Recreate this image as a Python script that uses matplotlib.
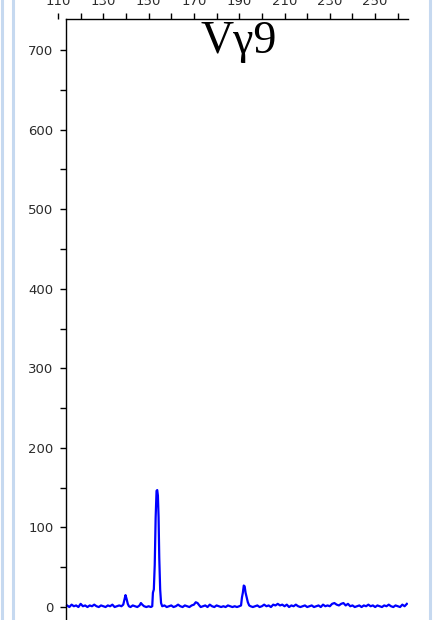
import matplotlib
matplotlib.use('Agg')
import matplotlib.pyplot as plt
from matplotlib.lines import Line2D
from matplotlib.ticker import MultipleLocator

# fragment size (bp) and signal (RFU)
sizes = [114, 115, 116, 117, 118, 119, 120, 121, 122, 123, 124, 125, 126, 127, 128,
         129, 130, 131, 132, 133, 134, 135, 136, 137, 138,
         138.8, 139.3, 139.8, 140.3, 140.8, 141.3, 142, 143, 144, 145, 146, 146.6,
         147.2, 148, 149, 150, 151, 151.6,
         151.9, 152.3, 152.7, 153.1, 153.5, 153.8, 154.1, 154.4, 154.7, 155.1, 155.5,
         156, 157, 158, 159, 160, 161, 162, 163, 164, 165, 166, 167, 168, 169, 170,
         170.8, 171.6, 172.4, 173, 174, 175, 176, 177, 178, 179, 180, 181, 182, 183,
         184, 185, 186, 187, 188, 189, 190, 190.8,
         191.2, 191.6, 192.0, 192.4, 192.8, 193.3, 193.8, 194.4, 195, 196, 197, 198,
         199, 200, 201, 202, 203, 204, 205, 206, 207, 208, 209, 210, 211, 212, 213,
         214, 215, 216, 217, 218, 219, 220, 221, 222, 223, 224, 225, 226, 227, 228,
         229, 230, 231, 232, 233, 234, 235, 236, 237, 238, 239, 240, 241, 242, 243,
         244, 245, 246, 247, 248, 249, 250, 251, 252, 253, 254, 255, 256, 257, 258,
         259, 260, 261, 262, 263, 264]
rfu = [2, 0, 3, 1, 2, 0, 4, 1, 2, 0, 2, 1, 3, 1, 0,
       2, 1, 0, 2, 1, 3, 0, 1, 2, 1,
       3, 9, 15, 10, 4, 1, 0, 2, 1, 0, 2, 5,
       3, 1, 0, 1, 0, 1,
       18, 22, 53, 112, 146, 147, 140, 113, 62, 22, 5,
       1, 2, 0, 1, 2, 0, 1, 3, 1, 0, 2, 1, 0, 2, 3,
       6, 5, 2, 0, 1, 2, 0, 3, 1, 0, 2, 1, 0, 1,
       0, 2, 1, 0, 1, 0, 1, 2,
       12, 18, 27, 26, 18, 12, 6, 2, 1, 0, 1, 2,
       0, 1, 3, 1, 2, 0, 3, 2, 4, 2, 3, 1, 3, 0, 2,
       1, 3, 1, 0, 1, 2, 0, 1, 2, 0, 1, 2, 0, 3, 1,
       2, 1, 4, 5, 3, 2, 4, 5, 2, 4, 1, 2, 0, 1, 2,
       0, 2, 1, 3, 1, 2, 0, 2, 1, 0, 2, 1, 3, 1, 0,
       2, 1, 0, 3, 1, 4]

x_major = [110, 130, 150, 170, 190, 210, 230, 250]
x_minor = [120, 140, 160, 180, 200, 220, 240, 260]
y_major = [0, 100, 200, 300, 400, 500, 600, 700]

title = 'V\u03b39'
label_color = '#2b2b2b'

fig = plt.figure(figsize=(4.37, 6.2), dpi=100)
ax = fig.add_axes([58 / 437, 0.0, 350 / 437, 601 / 620])

ax.plot(sizes, rfu, color='#0000ff', linewidth=1.6)

ax.set_xlim(110, 264.5)
ax.set_ylim(-16.3, 739)

# axes in the style of the fragment-analysis viewer
ax.spines['right'].set_visible(False)
ax.spines['bottom'].set_visible(False)
ax.spines['left'].set_position(('data', 113.5))
ax.spines['top'].set_bounds(113.5, 264.5)
for s in ('left', 'top'):
    ax.spines[s].set_linewidth(1.0)

ax.xaxis.set_ticks_position('top')
ax.set_xticks(x_major)
ax.set_xticks(x_minor, minor=True)
ax.set_yticks(y_major)
ax.yaxis.set_minor_locator(MultipleLocator(50))
ax.tick_params(axis='both', which='both', direction='out', length=4, width=1,
               colors='black', labelcolor=label_color, labelsize=9.5)
ax.tick_params(axis='x', which='major', pad=4)
ax.tick_params(axis='y', which='major', pad=5)

ax.text(0.515, 0.997, title, transform=ax.transAxes, ha='center', va='top',
        fontsize=33, family='Liberation Serif', color='black')

# window frame lines
for xp in (1.5, 12.5, 430):
    fig.add_artist(Line2D([xp / 437, xp / 437], [0, 1], color='#c6d9f0',
                          linewidth=2.2, transform=fig.transFigure))

fig.savefig('out.png', dpi=100)
